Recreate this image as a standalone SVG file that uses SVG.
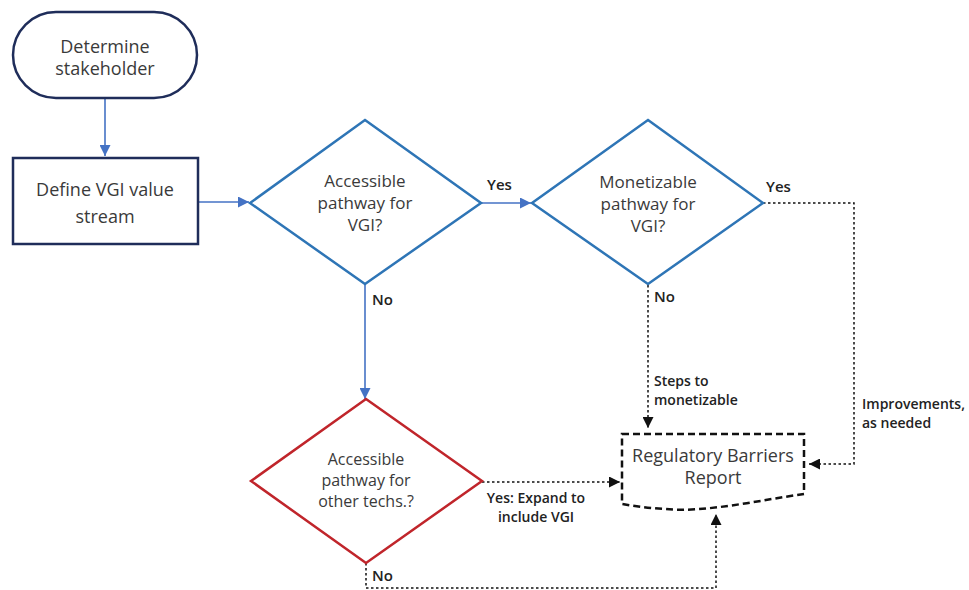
<svg xmlns="http://www.w3.org/2000/svg" width="969" height="590" viewBox="0 0 969 590">
<style>
.bg{fill:#ffffff}
.node{fill:#ffffff}
.navy{stroke:#1f2d5a;stroke-width:2.5}
.bdia{stroke:#2e75b6;stroke-width:2.5;stroke-linejoin:miter}
.rdia{stroke:#c0252b;stroke-width:2.5;stroke-linejoin:miter}
.doc{stroke:#111111;stroke-width:2.5;stroke-dasharray:7 4;fill:#ffffff}
.t{font-family:"Open Sans","Liberation Sans",sans-serif;font-size:18px;fill:#3a3a3a;text-anchor:middle}
.td{font-family:"Open Sans","Liberation Sans",sans-serif;font-size:17px;fill:#3a3a3a;text-anchor:middle}
.ts{font-family:"Open Sans","Liberation Sans",sans-serif;font-size:16px;fill:#3a3a3a;text-anchor:middle}
.lab{font-family:"Open Sans","Liberation Sans",sans-serif;font-size:15px;font-weight:600;fill:#222222}
.labm{font-family:"Open Sans","Liberation Sans",sans-serif;font-size:14px;font-weight:600;fill:#222222}
.blue{stroke:#4472c4;stroke-width:1.6;fill:none}
.dot{stroke:#111111;stroke-width:1.5;stroke-dasharray:2.5 2.5;fill:none}
</style>
<defs>
<marker id="ab" markerUnits="userSpaceOnUse" markerWidth="11" markerHeight="11" refX="11" refY="5.5" orient="auto">
<path d="M0,0 L11,5.5 L0,11 z" fill="#4472c4"/>
</marker>
<marker id="ak" markerUnits="userSpaceOnUse" markerWidth="11" markerHeight="11" refX="11" refY="5.5" orient="auto">
<path d="M0,0 L11,5.5 L0,11 z" fill="#111111"/>
</marker>
</defs>
<rect class="bg" x="0" y="0" width="969" height="590"/>

<g id="connectors">
<line class="blue" x1="105" y1="98" x2="105" y2="156" marker-end="url(#ab)"/>
<line class="blue" x1="198" y1="202" x2="249" y2="202" marker-end="url(#ab)"/>
<line class="blue" x1="481" y1="203" x2="531" y2="203" marker-end="url(#ab)"/>
<line class="blue" x1="365" y1="284" x2="365" y2="399" marker-end="url(#ab)"/>
<polyline class="dot" points="763,203 854,203 854,464 809,464" marker-end="url(#ak)"/>
<line class="dot" x1="648" y1="285" x2="648" y2="428" marker-end="url(#ak)"/>
<line class="dot" x1="482" y1="482" x2="620" y2="482" marker-end="url(#ak)"/>
<polyline class="dot" points="366,563 366,588 716,588 716,514" marker-end="url(#ak)"/>
<text class="lab" x="487" y="190">Yes</text>
<text class="lab" x="766" y="192">Yes</text>
<text class="lab" x="372" y="305">No</text>
<text class="lab" x="654" y="302">No</text>
<text class="lab" x="372" y="581">No</text>
<text class="labm" x="654" y="386">Steps to</text>
<text class="labm" x="654" y="405">monetizable</text>
<text class="labm" x="536" y="503" text-anchor="middle">Yes: Expand to</text>
<text class="labm" x="536" y="522" text-anchor="middle">include VGI</text>
<text class="labm" x="862" y="409">Improvements,</text>
<text class="labm" x="862" y="428">as needed</text>
</g>

<g id="start">
<rect class="node navy" x="13" y="12" width="184" height="86" rx="43" ry="43"/>
<text class="t" x="105" y="53">Determine</text>
<text class="t" x="105" y="75">stakeholder</text>
</g>

<g id="define">
<rect class="node navy" x="13" y="158" width="185" height="86"/>
<text class="t" x="105" y="196">Define VGI value</text>
<text class="t" x="105" y="223">stream</text>
</g>

<g id="accessible">
<polygon class="node bdia" points="365,120 481,203 365,284 250,203"/>
<text class="td" x="365" y="187">Accessible</text>
<text class="td" x="365" y="209">pathway for</text>
<text class="td" x="365" y="231">VGI?</text>
</g>

<g id="monetizable">
<polygon class="node bdia" points="648,120 763,203 648,284 532,203"/>
<text class="td" x="648" y="188">Monetizable</text>
<text class="td" x="648" y="210">pathway for</text>
<text class="td" x="648" y="232">VGI?</text>
</g>

<g id="other">
<polygon class="node rdia" points="366,399 482,481 366,563 251,481"/>
<text class="ts" x="366" y="465">Accessible</text>
<text class="ts" x="366" y="486">pathway for</text>
<text class="ts" x="366" y="507">other techs.?</text>
</g>

<g id="report">
<path class="doc" d="M622,434 H804 V494 C760,500 705,513 665,509 C648,508 634,506 622,504 Z"/>
<text class="t" x="713" y="462">Regulatory Barriers</text>
<text class="t" x="713" y="484">Report</text>
</g>
</svg>
